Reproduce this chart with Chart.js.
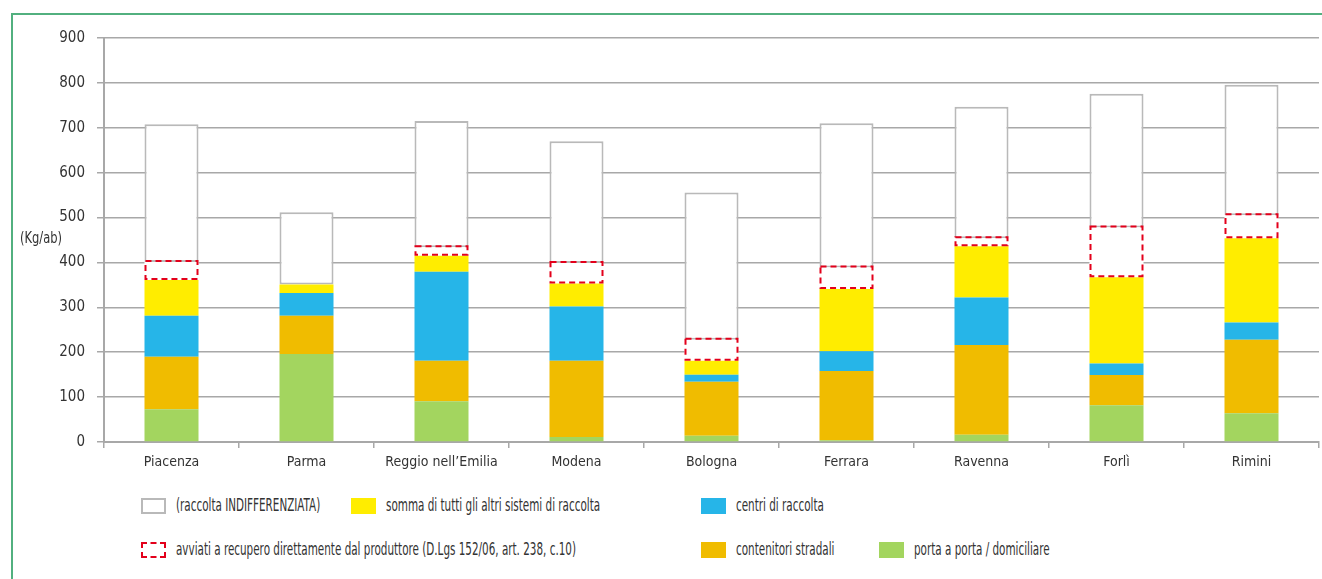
<!DOCTYPE html>
<html>
<head>
<meta charset="utf-8">
<script src="https://cdn.jsdelivr.net/npm/chart.js@4/dist/chart.umd.min.js"></script>
<style>
  html, body { margin: 0; padding: 0; background: #fff; }
  body { width: 1322px; height: 579px; position: relative; overflow: hidden;
         font-family: "Liberation Sans Narrow", "DejaVu Sans Condensed", sans-serif; color: #333; }
  #frame { position: absolute; left: 11px; top: 13px; width: 1400px; height: 700px;
           border-left: 2px solid #52b07f; border-top: 2px solid #52b07f; }
  #wrap { position: absolute; left: 0; top: 0; width: 1322px; height: 480px; }
  #unit { position: absolute; left: 20px; top: 228px; font-size: 16px; color: #333;
          transform: scaleX(0.8); transform-origin: left center; }
  .lg { position: absolute; font-size: 17px; color: #333; white-space: nowrap; line-height: 20px;
        transform: scaleX(0.68); transform-origin: left center; }
  .bx { position: absolute; width: 25px; height: 16px; box-sizing: border-box; }
</style>
</head>
<body>
<div id="frame"></div>
<div id="wrap"><canvas id="c"></canvas></div>
<div id="unit">(Kg/ab)</div>
<div id="legend"></div>
<script>
const categories = ["Piacenza", "Parma", "Reggio nell’Emilia", "Modena", "Bologna", "Ferrara", "Ravenna", "Forlì", "Rimini"];
const portaAPorta = [73, 196, 91, 11, 14, 4, 16, 82, 64];
const contenitoriStradali = [117, 85, 90, 170, 120, 154, 200, 67, 164];
const centriDiRaccolta = [91, 51, 198, 121, 16, 44, 106, 26, 38];
const altriSistemi = [80, 19, 36, 51, 31, 139, 114, 192, 188];
const avviatiRecupero = [40, 0, 19, 46, 47, 48, 18, 111, 51];
const indifferenziata = [307, 161, 281, 271, 328, 321, 293, 298, 291];
const yTicks = [0, 100, 200, 300, 400, 500, 600, 700, 800, 900];

const legendItems = [
  { label: "(raccolta INDIFFERENZIATA)", fill: "#ffffff", border: "2px solid #b9b9b9", x: 141, y: 506 },
  { label: "somma di tutti gli altri sistemi di raccolta", fill: "#ffed00", border: "none", x: 351, y: 506 },
  { label: "centri di raccolta", fill: "#26b5e8", border: "none", x: 701, y: 506 },
  { label: "avviati a recupero direttamente dal produttore (D.Lgs 152/06, art. 238, c.10)", fill: "#ffffff", border: "2px dashed #e3001b", x: 141, y: 550 },
  { label: "contenitori stradali", fill: "#f0bc00", border: "none", x: 701, y: 550 },
  { label: "porta a porta / domiciliare", fill: "#a3d55f", border: "none", x: 879, y: 550 }
];

const lg = document.getElementById('legend');
legendItems.forEach(it => {
  const b = document.createElement('div');
  b.className = 'bx';
  b.style.left = it.x + 'px';
  b.style.top = (it.y - 8) + 'px';
  b.style.background = it.fill;
  b.style.border = it.border;
  lg.appendChild(b);
  const t = document.createElement('div');
  t.className = 'lg';
  t.textContent = it.label;
  t.style.left = (it.x + 35) + 'px';
  t.style.top = (it.y - 11) + 'px';
  lg.appendChild(t);
});

const dashedPlugin = {
  id: 'dashedBoxes',
  afterDatasetsDraw(chart) {
    const idx = chart.data.datasets.findIndex(d => d.dashed);
    if (idx < 0) return;
    const meta = chart.getDatasetMeta(idx);
    const ctx = chart.ctx;
    ctx.save();
    ctx.strokeStyle = '#e3001b';
    ctx.lineWidth = 2;
    ctx.setLineDash([6, 4]);
    meta.data.forEach((el, i) => {
      const v = chart.data.datasets[idx].data[i];
      if (!v) return;
      const p = el.getProps(['x', 'y', 'base', 'width'], true);
      const left = p.x - p.width / 2 + 1;
      const top = Math.min(p.y, p.base) - 1;
      const bottom = Math.max(p.y, p.base) - 1;
      ctx.strokeRect(left, top, p.width - 2, bottom - top);
    });
    ctx.restore();
  }
};

const common = { barPercentage: 0.4, categoryPercentage: 1.0, borderWidth: 0, stack: 's' };
const gridColor = '#a8a8a8';
const fontFamily = '"Liberation Sans Narrow", "DejaVu Sans Condensed", sans-serif';

new Chart(document.getElementById('c'), {
  type: 'bar',
  data: {
    labels: categories,
    datasets: [
      { label: 'porta a porta / domiciliare', data: portaAPorta, backgroundColor: '#a3d55f', ...common },
      { label: 'contenitori stradali', data: contenitoriStradali, backgroundColor: '#f0bc00', ...common },
      { label: 'centri di raccolta', data: centriDiRaccolta, backgroundColor: '#26b5e8', ...common },
      { label: 'somma di tutti gli altri sistemi di raccolta', data: altriSistemi, backgroundColor: '#ffed00', ...common },
      { label: 'avviati a recupero', data: avviatiRecupero, backgroundColor: '#ffffff', dashed: true, ...common },
      { label: '(raccolta INDIFFERENZIATA)', data: indifferenziata, backgroundColor: '#ffffff', ...common,
        borderWidth: 2, borderColor: '#b9b9b9', borderSkipped: false }
    ]
  },
  options: {
    responsive: true,
    maintainAspectRatio: false,
    animation: false,
    events: [],
    layout: { padding: { top: 38, right: 3, left: 0, bottom: 0 } },
    plugins: { legend: { display: false }, tooltip: { enabled: false } },
    scales: {
      x: {
        stacked: true,
        offset: true,
        grid: { offset: true, drawOnChartArea: false, drawTicks: true, tickLength: 6, color: gridColor, lineWidth: 1.5 },
        border: { display: true, color: gridColor, width: 2 },
        ticks: { color: '#333', font: { family: fontFamily, size: 14 }, padding: 6, maxRotation: 0, autoSkip: false },
        afterFit(scale) { scale.height = 38; }
      },
      y: {
        stacked: true,
        min: 0, max: 900,
        afterBuildTicks(scale) { scale.ticks = yTicks.map(v => ({ value: v })); },
        grid: { color: gridColor, lineWidth: 1.5, tickLength: 7, drawTicks: true },
        border: { display: true, color: gridColor, width: 2 },
        ticks: { color: '#333', font: { family: fontFamily, size: 15 }, padding: 12 },
        afterFit(scale) { scale.width = 104; }
      }
    }
  },
  plugins: [dashedPlugin]
});
</script>
</body>
</html>
